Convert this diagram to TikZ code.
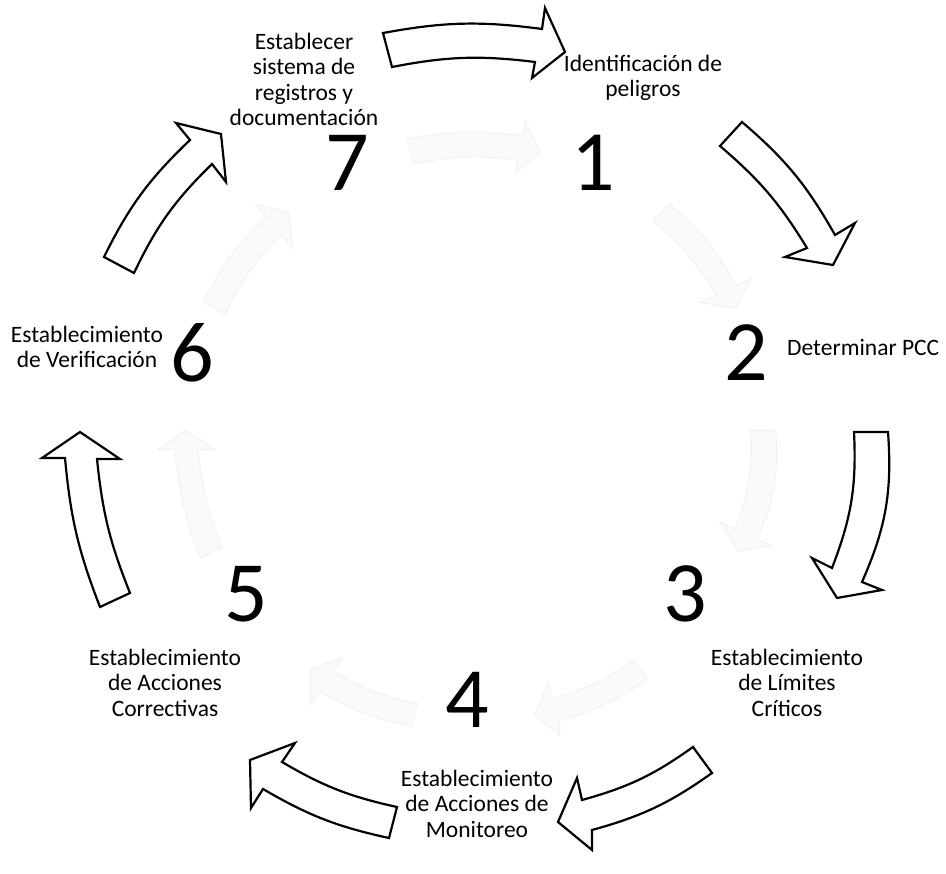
\documentclass[tikz,border=0pt]{standalone}
\usepackage{fontspec}
\setmainfont{Carlito}
\begin{document}
\begin{tikzpicture}[x=1pt,y=1pt,
  bigarrow/.style={draw=black,fill=white,line width=2.2pt,line join=miter},
  faintarrow/.style={draw=black!5,fill=black!2,line width=1pt},
  lbl/.style={font=\fontsize{23.5}{25.5}\selectfont,align=center,inner sep=0pt,anchor=base},
  num/.style={font=\fontsize{86}{86}\selectfont,inner sep=0pt,anchor=center},
  arrA/.style={insert path={(383,-33) to[bend left=9] (542,-29) -- (545,-8) -- (565,-52) -- (532,-78) -- (535,-62) to[bend right=9] (392,-67) -- cycle}},
  arrB/.style={insert path={(742,-122) to[bend left=10] (835,-235) -- (855,-223) -- (833,-265) -- (785,-257) -- (807,-248) to[bend right=9] (720,-146) -- cycle}},
  arrC/.style={insert path={(888,-432) to[bend left=14] (862,-582) -- (882,-590) -- (837,-598) -- (812,-558) -- (832,-568) to[bend right=12] (854,-432) -- cycle}},
  arrD/.style={insert path={(712,-773) to[bend left=10] (592,-830) -- (592,-850) -- (558,-822) -- (577,-778) -- (582,-800) to[bend right=10] (693,-747) -- cycle}},
  arrE/.style={insert path={(389,-838) to[bend left=9] (263,-789) -- (251,-808) -- (250,-760) -- (295,-743) -- (282,-762) to[bend right=9] (397,-807) -- cycle}},
  arrF/.style={insert path={(100,-607) to[bend left=8] (65,-458) -- (42,-458) -- (80,-432) -- (120,-459) -- (97,-459) to[bend right=8] (130,-593) -- cycle}},
  arrG/.style={insert path={(104,-257) to[bend left=10] (190,-140) -- (176,-123) -- (221,-134) -- (226,-182) -- (212,-164) to[bend right=10] (134,-273) -- cycle}}
]
\fill[white] (0,0) rectangle (946,-874);
\useasboundingbox (0,0) rectangle (946,-874);

% faint inner reflections
\begin{scope}[scale around={0.73:(472,-425)}]
  \path[faintarrow,arrA];
  \path[faintarrow,arrB];
  \path[faintarrow,arrC];
  \path[faintarrow,arrD];
  \path[faintarrow,arrE];
  \path[faintarrow,arrF];
  \path[faintarrow,arrG];
\end{scope}

% main arrows
\path[bigarrow,arrA];
\path[bigarrow,arrB];
\path[bigarrow,arrC];
\path[bigarrow,arrD];
\path[bigarrow,arrE];
\path[bigarrow,arrF];
\path[bigarrow,arrG];

% numbers
\node[num] (d1) at (593,-163) {1};
\node[num] (d2) at (746,-353) {2};
\node[num] (d3) at (685,-594) {3};
\node[num] (d4) at (467,-700) {4};
\node[num] (d5) at (246,-594) {5};
\node[num] (d6) at (192,-353) {6};
\node[num] (d7) at (347,-163) {7};

% labels (anchor = baseline of the last line)
\node[lbl] (t1) at (643,-97) {Identificación de\\peligros};
\node[lbl,anchor=base west] (t2) at (787,-356) {Determinar PCC};
\node[lbl] (t3) at (787,-716) {Establecimiento\\de Límites\\Críticos};
\node[lbl] (t4) at (477,-837) {Establecimiento\\de Acciones de\\Monitoreo};
\node[lbl] (t5) at (165,-716) {Establecimiento\\de Acciones\\Correctivas};
\node[lbl] (t6) at (87,-368) {Establecimiento\\de Verificación};
\node[lbl] (t7) at (304,-126) {Establecer\\sistema de\\registros y\\documentación};
\end{tikzpicture}
\end{document}
